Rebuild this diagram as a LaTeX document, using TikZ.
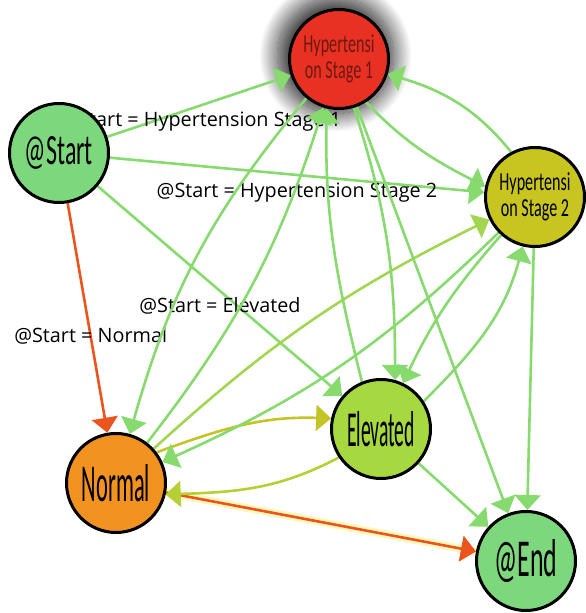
\documentclass[tikz,border=0pt]{standalone}
\usepackage{fontspec}
\usepackage{graphicx}
\usepackage{tikz}
\usetikzlibrary{arrows.meta,backgrounds,shadows.blur}
\newfontfamily\labelfont{Open Sans}
\newfontfamily\statefont[FakeStretch=0.62]{Carlito}
\definecolor{sgreen}{RGB}{125,216,125}
\definecolor{sred}{RGB}{232,48,35}
\definecolor{solive}{RGB}{200,196,32}
\definecolor{sorange}{RGB}{242,146,32}
\definecolor{slime}{RGB}{166,216,64}
\definecolor{egreen}{RGB}{134,218,110}
\definecolor{elime}{RGB}{162,214,80}
\definecolor{eolive}{RGB}{196,196,40}
\definecolor{eyellow}{RGB}{180,208,50}
\definecolor{ered}{RGB}{236,84,30}
\definecolor{eglow}{RGB}{255,240,120}
\definecolor{darkred}{RGB}{110,25,15}

\begin{document}
\begin{tikzpicture}[x=1pt,y=1pt]
  \tikzset{state/.style={draw=black,circle,line width=3pt,minimum size=99pt,inner sep=0pt,fill=#1},
           trans/.style={draw=#1,line width=2.6pt,-{Triangle[width=26pt,length=15pt]}},
           lbl/.style={font=\labelfont\fontsize{19.8}{24}\selectfont,text=black,inner sep=0pt},
           glow/.style={preaction={draw=eglow,line width=8pt,opacity=.5,-}}}
  \useasboundingbox (0,0) rectangle (586,613);

  \node [state=sgreen] (start) at (59,460) {\resizebox{68pt}{28pt}{\statefont @Start}};
  \node [state=sred, text=darkred, align=center, font=\statefont\fontsize{26}{26}\selectfont] (hyp1) at (339,554) {Hypertensi\\on Stage 1};
  \node [state=solive, align=center, font=\statefont\fontsize{26}{26}\selectfont] (hyp2) at (535,416) {Hypertensi\\on Stage 2};
  \node [state=sorange] (normal) at (116,130) {\resizebox{68pt}{37pt}{\statefont Normal}};
  \node [state=slime] (elev) at (381,184) {\resizebox{68pt}{35pt}{\statefont Elevated}};
  \node [state=sgreen] (fin) at (526,52) {\resizebox{63pt}{37pt}{\statefont @End}};

  \begin{scope}[on background layer]
    % dark halo round stage 1
    \node [circle,minimum size=102pt,blur shadow={shadow xshift=-3pt,shadow yshift=3pt,shadow scale=1.14,shadow blur radius=16pt,shadow blur steps=30,shadow opacity=85}] (hyp1halo) at (hyp1) {};
    % out of @Start
    \draw [trans=egreen] (start) -- node [lbl,pos=.51,yshift=-16pt] (lblone) {@Start = Hypertension Stage 1} (hyp1);
    \draw [trans=egreen] (start) -- node [lbl,pos=.5,yshift=-18pt] (lbltwo) {@Start = Hypertension Stage 2} (hyp2);
    \draw [trans=egreen] (start) -- node [lbl,pos=.5,yshift=-15pt] (lblelev) {@Start = Elevated} (elev);
    \draw [trans=ered] (start) -- node [lbl,pos=.58] (lblnorm) {@Start = Normal} (normal);
    % out of Normal
    \draw [trans=egreen] (normal) to[bend right=10] (hyp1);
    \draw [trans=elime] (normal) to[bend left=8] (hyp2);
    \draw [trans=eolive] (normal.37) to[out=20,in=178] (elev.168);
    \draw [trans=ered,glow] (normal) -- (fin);
    % out of Elevated
    \draw [trans=eyellow] (elev.214) to[out=208,in=2] (normal.347);
    \draw [trans=egreen] (elev.112) to[out=104,in=269] (hyp1.256);
    \draw [trans=egreen] (elev.33) to[out=45,in=255] (hyp2.256);
    \draw [trans=egreen] (elev) -- (fin);
    % out of stage 1
    \draw [trans=egreen] (hyp1) to[bend right=12] (normal);
    \draw [trans=egreen] (hyp1.287) to[out=288,in=90] (elev.74);
    \draw [trans=egreen] (hyp1.302) to[out=314,in=153] (hyp2.168);
    \draw [trans=egreen] (hyp1) -- (fin);
    % out of stage 2
    \draw [trans=egreen] (hyp2) to[bend left=10] (normal);
    \draw [trans=egreen] (hyp2) to[bend right=8] (elev);
    \draw [trans=egreen] (hyp2.118) to[out=129,in=343] (hyp1.343);
    \draw [trans=egreen] (hyp2) -- (fin);
  \end{scope}
\end{tikzpicture}
\end{document}
